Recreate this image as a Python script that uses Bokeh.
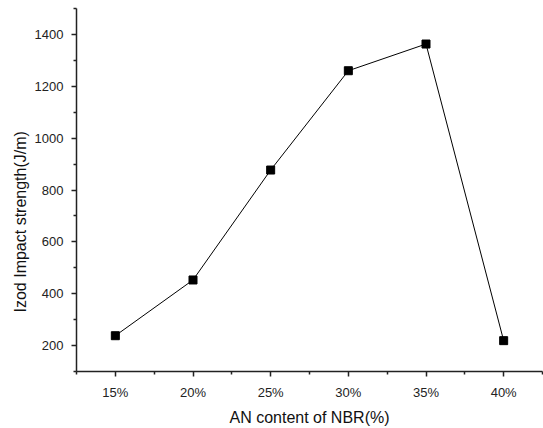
from bokeh.plotting import figure
from bokeh.models import FixedTicker, Range1d, Title
from bokeh.embed import file_html
from bokeh.resources import INLINE

an_content = [15, 20, 25, 30, 35, 40]
an_labels = ["15%", "20%", "25%", "30%", "35%", "40%"]
impact = [238, 453, 877, 1260, 1363, 219]

y_major = [200, 400, 600, 800, 1000, 1200, 1400]
y_minor = [100, 300, 500, 700, 900, 1100, 1300, 1500]
x_minor = [12.5, 17.5, 22.5, 27.5, 32.5, 37.5, 42.5]

p = figure(frame_width=466, frame_height=363, output_backend="svg", toolbar_location=None,
           x_range=Range1d(12.5, 42.5), y_range=Range1d(100, 1500),
           min_border_left=76, min_border_right=1, min_border_top=8, min_border_bottom=0)
p.outline_line_color = None
p.xgrid.visible = False
p.ygrid.visible = False

p.line(an_content, impact, line_color="black", line_width=1)
p.scatter(an_content, impact, marker="square", size=8, fill_color="black", line_color="black")

for ax in (p.xaxis[0], p.yaxis[0]):
    ax.axis_line_width = 1.5
    ax.axis_line_color = "#222222"
    ax.major_tick_line_color = "#222222"
    ax.minor_tick_line_color = "#222222"
    ax.major_tick_line_width = 1.5
    ax.minor_tick_line_width = 1.5
    ax.major_tick_out = 5
    ax.major_tick_in = 0
    ax.minor_tick_out = 3
    ax.minor_tick_in = 0
    ax.major_label_text_font = "Liberation Sans"
    ax.major_label_text_font_size = "13px"
    ax.major_label_text_color = "#222222"
    ax.axis_label_text_font = "Liberation Sans"
    ax.axis_label_text_font_style = "normal"
    ax.axis_label_text_color = "#111111"

p.xaxis.ticker = FixedTicker(ticks=an_content, minor_ticks=x_minor)
p.xaxis.major_label_overrides = {v: l for v, l in zip(an_content, an_labels)}
p.xaxis.axis_label = "AN content of NBR(%)"
p.xaxis.axis_label_text_font_size = "16px"
p.xaxis.major_label_standoff = 8
p.xaxis.axis_label_standoff = 6

p.yaxis.ticker = FixedTicker(ticks=y_major, minor_ticks=y_minor)
p.yaxis.major_label_standoff = 8

ytitle = Title(text="Izod Impact strength(J/m)", align="left", offset=59,
               text_font="Liberation Sans", text_font_size="16px",
               text_font_style="normal", text_color="#111111", standoff=6)
p.add_layout(ytitle, "left")

open("out.html", "w").write(file_html(p, INLINE))
